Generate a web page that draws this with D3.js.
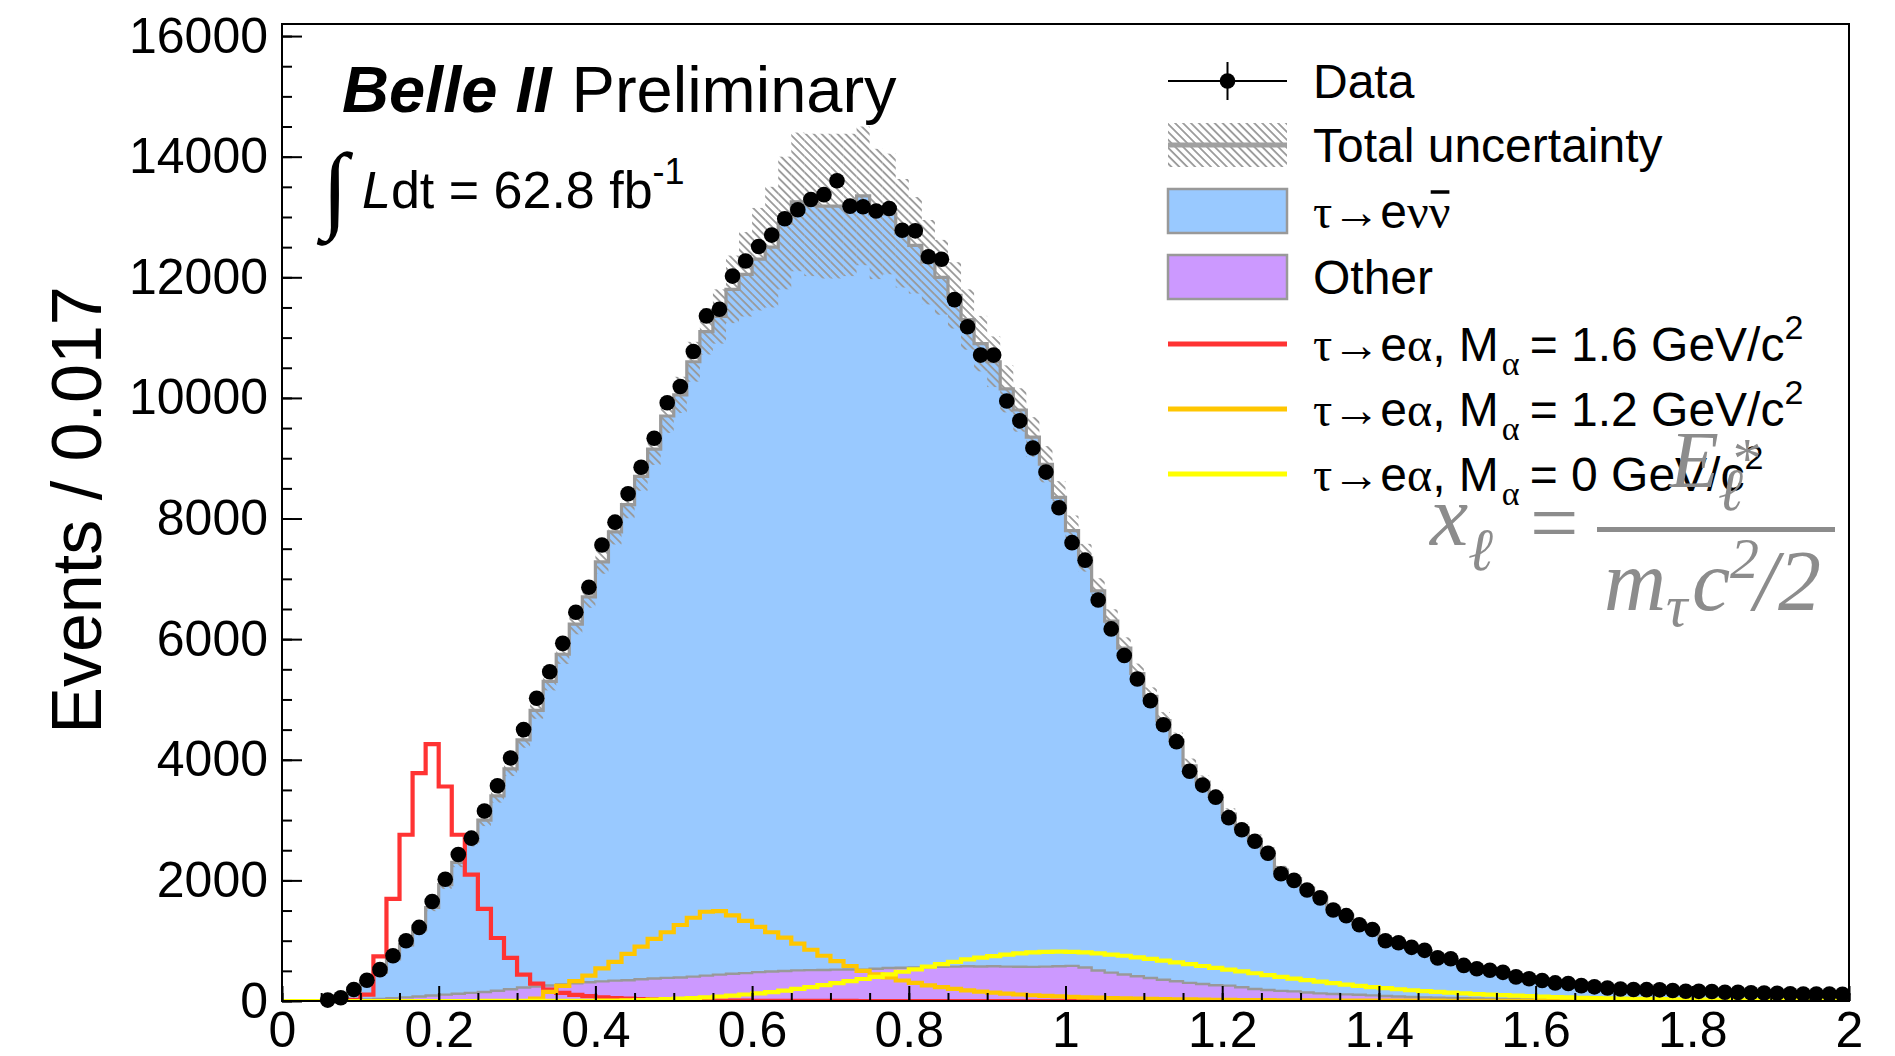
<!DOCTYPE html>
<html><head><meta charset="utf-8">
<script src="https://cdn.jsdelivr.net/npm/d3@7"></script>
<style>
body{margin:0;background:#fff;}
svg{display:block;}
</style>
</head><body>
<svg id="c" width="1895" height="1056"></svg>
<script>
// ---------------- DATA ----------------
const nBins = 120, xMin = 0, xMax = 2, yMax = 16200;

const dataCounts = [null,null,null,15,55,190,345,520,750,1000,
1220,1650,2020,2430,2700,3150,3570,4030,4500,5020,
5460,5930,6445,6860,7560,7940,8410,8850,9330,9920,
10190,10770,11360,11470,12020,12270,12510,12700,12970,13120,
13290,13370,13600,13180,13170,13100,13140,12780,12770,12340,
12300,11630,11180,10710,10710,9950,9620,9170,8770,8180,
7600,7310,6650,6170,5730,5340,4980,4580,4300,3810,
3580,3380,3040,2840,2650,2450,2110,2000,1840,1710,
1510,1415,1265,1185,1000,965,890,840,715,700,
590,535,510,475,400,370,340,300,290,255,
235,215,200,190,188,185,175,162,160,158,
145,143,135,132,127,118,116,115,114,113];

const tauEnunu = [0,0,0,7,42,135,275,445,655,870,
1105,1460,1825,2180,2515,2850,3230,3655,4105,4580,
5042,5475,5955,6390,6955,7442,7885,8340,8778,9317,
9660,10195,10680,10912,11348,11588,11822,12012,12402,12742,
12688,12665,12660,12677,12832,12515,12502,12178,11974,11690,
11434,11130,10725,10328,10025,9580,9232,8784,8330,7774,
7218,6795,6295,5830,5410,5020,4668,4298,3992,3600,
3348,3138,2845,2642,2480,2288,2002,1870,1730,1594,
1424,1310,1176,1086,936,885,824,770,666,641,
545,499,467,435,368,340,307,279,261,233,
214,195,181,172,168,164,157,148,144,142,
133,128,124,119,115,108,105,103,101,99];

const otherBkg = [0,0,0,3,8,15,25,35,45,60,
75,90,105,120,135,150,170,195,225,240,
258,275,295,310,325,338,345,360,372,383,
390,405,420,438,452,462,478,488,498,508,
512,515,520,523,518,535,548,552,556,560,
566,570,575,572,575,570,568,566,570,576,
582,555,505,470,440,410,382,352,328,300,
282,262,255,228,200,182,168,160,140,126,
116,110,104,94,84,75,66,60,54,49,
45,41,38,35,32,30,28,26,24,22,
21,20,19,18,17,16,15,14,14,13,
12,12,11,11,10,10,10,9,9,9];

const totalUnc = [0,0,0,5,10,15,20,25,30,40,
50,60,70,80,90,100,110,120,130,140,
150,160,170,180,195,210,225,240,260,280,
300,330,380,450,560,700,850,1000,1100,1150,
1180,1200,1200,1180,1150,1080,1000,900,800,700,
620,550,500,460,420,390,360,330,300,270,
250,230,210,195,180,165,150,140,130,120,
110,105,95,90,85,80,72,68,64,60,
55,52,48,45,40,38,36,34,30,29,
26,24,23,22,20,19,18,17,16,15,
14,14,13,13,13,12,12,12,12,11,
11,11,11,11,10,10,10,10,10,10];

const sigM16 = [0,0,0,0,0,20,106,741,1692,2757,
3780,4260,3557,2757,2094,1526,1045,714,437,288,
189,135,100,80,62,50,40,32,26,20,
16,12,10,8,6,5,4,3,2,2,
1,1,1,1,0,0,0,0,0,0,
0,0,0,0,0,0,0,0,0,0,
0,0,0,0,0,0,0,0,0,0,
0,0,0,0,0,0,0,0,0,0,
0,0,0,0,0,0,0,0,0,0,
0,0,0,0,0,0,0,0,0,0,
0,0,0,0,0,0,0,0,0,0,
0,0,0,0,0,0,0,0,0,0];

const sigM12 = [0,0,0,0,0,0,0,0,0,0,
0,0,0,0,0,0,0,0,0,40,
150,250,330,420,540,650,780,900,1030,1140,
1260,1380,1480,1490,1420,1330,1230,1140,1050,950,
850,750,660,580,500,440,390,340,300,260,
230,200,175,155,138,122,108,95,85,76,
68,61,55,50,45,40,36,32,29,26,
23,21,19,17,15,13,12,11,10,9,
8,8,7,7,6,6,5,5,5,4,
4,4,4,3,3,3,3,3,2,2,
2,2,2,2,2,2,2,2,2,2,
2,2,2,2,2,2,2,2,2,2];

const sigM0 = [0,0,0,0,0,0,0,0,0,0,
0,0,0,0,0,1,1,1,2,2,
2,3,3,4,5,8,12,16,22,30,
38,48,60,75,90,108,125,148,172,200,
230,262,295,330,365,400,440,485,525,570,
610,650,690,720,745,770,790,805,815,820,
815,805,790,770,750,725,700,670,640,610,
580,550,520,490,460,430,400,372,345,320,
295,272,250,230,212,195,178,163,150,138,
126,115,105,96,88,80,72,66,60,54,
49,45,41,37,34,31,28,26,24,22,
20,18,17,16,15,14,13,12,11,10];

const xTickValues = [0,0.2,0.4,0.6,0.8,1,1.2,1.4,1.6,1.8,2];
const xTickLabels = ["0","0.2","0.4","0.6","0.8","1","1.2","1.4","1.6","1.8","2"];
const yTickValues = [0,2000,4000,6000,8000,10000,12000,14000,16000];
const yTickLabels = ["0","2000","4000","6000","8000","10000","12000","14000","16000"];

// ---------------- LAYOUT ----------------
const W = 1895, H = 1056;
const pL = 282, pR = 1849, pT = 24, pB = 1001;
const SANS = "'Liberation Sans', Arial, Helvetica, sans-serif";
const SERIF = "'Liberation Serif', 'Times New Roman', serif";
const svg = d3.select("#c");
const x = d3.scaleLinear().domain([xMin, xMax]).range([pL, pR]);
const y = d3.scaleLinear().domain([0, yMax]).range([pB, pT]);
const edges = d3.range(nBins + 1).map(i => xMin + i * (xMax - xMin) / nBins);
const centers = d3.range(nBins).map(i => (edges[i] + edges[i + 1]) / 2);

const C = {blue:"#99c9ff", purple:"#cc99ff", line:"#999999", red:"#ff3333", orange:"#ffc600", yellow:"#ffff00", hatch:"#999999", formula:"#8c8c8c"};

svg.append("rect").attr("width", W).attr("height", H).attr("fill", "#fff");

const defs = svg.append("defs");
defs.append("clipPath").attr("id","plotclip").append("rect")
  .attr("x", pL).attr("y", pT).attr("width", pR-pL).attr("height", pB-pT);
const pat = defs.append("pattern").attr("id","hatch").attr("patternUnits","userSpaceOnUse")
  .attr("width", 12).attr("height", 5.6).attr("patternTransform","rotate(45)");
pat.append("rect").attr("x",0).attr("y",0).attr("width",12).attr("height",1.8).attr("fill",C.hatch);

const plot = svg.append("g").attr("clip-path","url(#plotclip)");

// stacked MC
const rows = d3.range(nBins).map(i => ({other: otherBkg[i], tau: tauEnunu[i]}));
const stacked = d3.stack().keys(["other","tau"])(rows);
const areaGen = d3.area().curve(d3.curveStepAfter)
  .x(d => x(d[0])).y0(d => y(d[1])).y1(d => y(d[2]));
const lineGen = d3.line().curve(d3.curveStepAfter).x(d => x(d[0])).y(d => y(d[1]));
function layerPts(layer){
  const p = layer.map((d,i) => [edges[i], d[0], d[1]]);
  p.push([edges[nBins], layer[nBins-1][0], layer[nBins-1][1]]);
  return p;
}
function histPts(vals){
  const p = vals.map((v,i) => [edges[i], v]);
  p.push([edges[nBins], vals[nBins-1]]);
  return p;
}
const fills = [C.purple, C.blue];
stacked.forEach((layer, k) => {
  plot.append("path").attr("d", areaGen(layerPts(layer))).attr("fill", fills[k]).attr("stroke","none");
});
const otherTop = stacked[0].map(d => d[1]);
const mcTotal = stacked[1].map(d => d[1]);
plot.append("path").attr("d", lineGen(histPts(otherTop))).attr("fill","none").attr("stroke",C.line).attr("stroke-width",2.4);
plot.append("path").attr("d", lineGen(histPts(mcTotal))).attr("fill","none").attr("stroke",C.line).attr("stroke-width",3.2);

// uncertainty band
plot.append("g").selectAll("rect").data(d3.range(nBins).filter(i => totalUnc[i] > 0)).join("rect")
  .attr("x", i => x(edges[i])).attr("width", i => x(edges[i+1]) - x(edges[i]))
  .attr("y", i => y(mcTotal[i] + totalUnc[i]))
  .attr("height", i => y(Math.max(0, mcTotal[i] - totalUnc[i])) - y(mcTotal[i] + totalUnc[i]))
  .attr("fill","url(#hatch)");

// signals
[[sigM16, C.red],[sigM12, C.orange],[sigM0, C.yellow]].forEach(([vals,col]) => {
  plot.append("path").attr("d", lineGen(histPts(vals))).attr("fill","none")
    .attr("stroke", col).attr("stroke-width", 4.2).attr("stroke-linejoin","miter");
});

// ---------------- AXES ----------------
const minorX = d3.range(0, 41).map(i => i * 0.05);
const minorY = d3.range(0, 33).map(i => i * 500);
const ax = svg.append("g").attr("transform", `translate(0,${pB})`);
ax.call(d3.axisBottom(x).tickValues(minorX).tickSize(-8).tickSizeOuter(0).tickFormat(""));
const ax2 = svg.append("g").attr("transform", `translate(0,${pB})`);
ax2.call(d3.axisBottom(x).tickValues(xTickValues).tickSize(-15).tickSizeOuter(0).tickPadding(10)
  .tickFormat((d,i) => xTickLabels[i]));
const ay = svg.append("g").attr("transform", `translate(${pL},0)`);
ay.call(d3.axisLeft(y).tickValues(minorY.filter(v => v <= yMax)).tickSize(-10).tickSizeOuter(0).tickFormat(""));
const ay2 = svg.append("g").attr("transform", `translate(${pL},0)`);
ay2.call(d3.axisLeft(y).tickValues(yTickValues).tickSize(-20).tickSizeOuter(0).tickPadding(14)
  .tickFormat((d,i) => yTickLabels[i]));
svg.selectAll(".domain").remove();
svg.selectAll(".tick line").attr("stroke","#000").attr("stroke-width",2);
svg.selectAll(".tick text").attr("font-size",50).style("font-family",SANS).attr("fill","#000");
svg.append("rect").attr("x",pL).attr("y",pT).attr("width",pR-pL).attr("height",pB-pT)
  .attr("fill","none").attr("stroke","#000").attr("stroke-width",2);

// data points
const pts = d3.range(nBins).filter(i => dataCounts[i] !== null);
const dg = svg.append("g");
dg.selectAll("line").data(pts).join("line")
  .attr("x1", i => x(centers[i])).attr("x2", i => x(centers[i]))
  .attr("y1", i => y(dataCounts[i] + Math.sqrt(dataCounts[i])))
  .attr("y2", i => y(Math.max(0,dataCounts[i] - Math.sqrt(dataCounts[i]))))
  .attr("stroke","#000").attr("stroke-width",2);
dg.selectAll("circle").data(pts).join("circle")
  .attr("cx", i => x(centers[i])).attr("cy", i => y(dataCounts[i])).attr("r", 7.8).attr("fill","#000");

function T(sel){ return sel.style("font-family", SANS).attr("fill","#000"); }

// y title
T(svg.append("text")).attr("transform","translate(101,510) rotate(-90)").attr("text-anchor","middle")
  .attr("font-size",70).text("Events / 0.017");

// Belle II title
const t1 = T(svg.append("text")).attr("x",342).attr("y",112).attr("font-size",65);
t1.append("tspan").attr("font-weight","bold").attr("font-style","italic").text("Belle II");
t1.append("tspan").attr("dx",20).text("Preliminary");

// luminosity
svg.append("text").attr("x",322).attr("y",220).attr("font-size",96).style("font-family",SERIF).attr("fill","#000").text("∫");
const t2 = T(svg.append("text")).attr("x",362).attr("y",208).attr("font-size",52);
t2.append("tspan").attr("font-style","italic").text("L");
t2.append("tspan").text("dt = 62.8 fb");
t2.append("tspan").attr("font-size",36).attr("dy",-24).text("-1");

// ---------------- LEGEND ----------------
const lx0 = 1168, lx1 = 1287, ltx = 1313, lfs = 48;
const rowY = [81, 145, 211, 277, 344, 409, 474];
const lg = svg.append("g");
lg.append("line").attr("x1",lx0).attr("x2",lx1).attr("y1",rowY[0]).attr("y2",rowY[0]).attr("stroke","#000").attr("stroke-width",2);
lg.append("line").attr("x1",(lx0+lx1)/2).attr("x2",(lx0+lx1)/2).attr("y1",rowY[0]-19).attr("y2",rowY[0]+19).attr("stroke","#000").attr("stroke-width",2);
lg.append("circle").attr("cx",(lx0+lx1)/2).attr("cy",rowY[0]).attr("r",7.8).attr("fill","#000");
lg.append("rect").attr("x",lx0).attr("y",rowY[1]-22).attr("width",lx1-lx0).attr("height",44).attr("fill","url(#hatch)");
lg.append("line").attr("x1",lx0).attr("x2",lx1).attr("y1",rowY[1]).attr("y2",rowY[1]).attr("stroke","#a0a0a0").attr("stroke-width",5);
lg.append("rect").attr("x",lx0).attr("y",rowY[2]-22).attr("width",lx1-lx0).attr("height",44).attr("fill",C.blue).attr("stroke",C.line).attr("stroke-width",2.5);
lg.append("rect").attr("x",lx0).attr("y",rowY[3]-22).attr("width",lx1-lx0).attr("height",44).attr("fill",C.purple).attr("stroke",C.line).attr("stroke-width",2.5);
[[4,C.red],[5,C.orange],[6,C.yellow]].forEach(([r,col]) => {
  lg.append("line").attr("x1",lx0).attr("x2",lx1).attr("y1",rowY[r]).attr("y2",rowY[r]).attr("stroke",col).attr("stroke-width",5);
});
function ltext(r){ return T(lg.append("text")).attr("x",ltx).attr("y",rowY[r]+17).attr("font-size",lfs); }
ltext(0).text("Data");
ltext(1).text("Total uncertainty");
const tnu = ltext(2);
tnu.append("tspan").style("font-family",SERIF).text("τ→");
tnu.append("tspan").text("e");
tnu.append("tspan").style("font-family",SERIF).text("νν");
try {
  const nuBox = tnu.node().getExtentOfChar(4);
  lg.append("line").attr("x1",nuBox.x+2).attr("x2",nuBox.x+nuBox.width-1)
    .attr("y1",rowY[2]-19).attr("y2",rowY[2]-19).attr("stroke","#000").attr("stroke-width",3.5);
} catch(e) {}
ltext(3).text("Other");
const masses = ["1.6","1.2","0"];
masses.forEach((m,k) => {
  const t = ltext(4+k);
  t.append("tspan").style("font-family",SERIF).text("τ→");
  t.append("tspan").text("e");
  t.append("tspan").style("font-family",SERIF).text("α");
  t.append("tspan").text(", M");
  t.append("tspan").style("font-family",SERIF).attr("font-size",34).attr("dy",14).attr("dx",3).text("α");
  t.append("tspan").attr("dy",-14).attr("dx",10).text("= " + m + " GeV/c");
  t.append("tspan").attr("font-size",34).attr("dy",-22).text("2");
});

// ---------------- FORMULA ----------------
const fg = svg.append("g");
function ftxt(xp, yp, fs, str, italic=true){
  return fg.append("text").attr("x",xp).attr("y",yp).attr("font-size",fs)
    .style("font-family",SERIF)
    .attr("font-style", italic ? "italic" : "normal").attr("fill",C.formula).text(str);
}
ftxt(1430, 545, 86, "x");
ftxt(1468, 570, 60, "ℓ");
ftxt(1530, 552, 86, "=", false);
fg.append("rect").attr("x",1597).attr("y",527).attr("width",238).attr("height",5).attr("fill",C.formula);
ftxt(1670, 487, 80, "E");
ftxt(1730, 478, 58, "*");
ftxt(1718, 510, 60, "ℓ");
ftxt(1604, 610, 86, "m");
ftxt(1666, 626, 60, "τ");
ftxt(1692, 610, 86, "c");
ftxt(1730, 578, 58, "2");
ftxt(1754, 610, 86, "/2");
</script>
</body></html>
